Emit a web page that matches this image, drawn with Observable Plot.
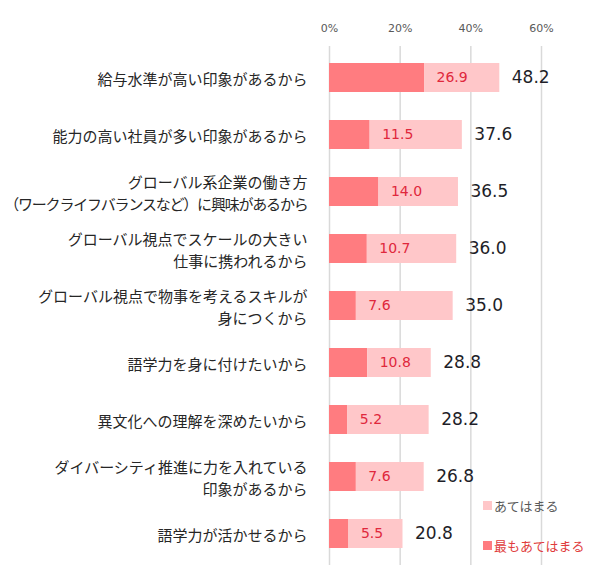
<!DOCTYPE html>
<html>
<head>
<meta charset="utf-8">
<script src="https://cdn.jsdelivr.net/npm/d3@7"></script>
<script src="https://cdn.jsdelivr.net/npm/@observablehq/plot@0.6"></script>
<style>
  html, body { margin: 0; padding: 0; background: #fff; }
  #wrap { position: relative; width: 608px; height: 566px; }
  .leg { position: absolute; display: flex; align-items: center; font-family: "Noto Sans CJK JP", sans-serif; font-size: 13px; }
  .leg span.sw { display: inline-block; width: 9px; height: 9px; margin-right: 2px; }
</style>
</head>
<body>
<div id="wrap"></div>
<script>
const categories = [
  "給与水準が高い印象があるから",
  "能力の高い社員が多い印象があるから",
  "グローバル系企業の働き方\n（ワークライフバランスなど）に興味があるから",
  "グローバル視点でスケールの大きい\n仕事に携われるから",
  "グローバル視点で物事を考えるスキルが\n身につくから",
  "語学力を身に付けたいから",
  "異文化への理解を深めたいから",
  "ダイバーシティ推進に力を入れている\n印象があるから",
  "語学力が活かせるから"
];
const mostApplies = [26.9, 11.5, 14.0, 10.7, 7.6, 10.8, 5.2, 7.6, 5.5];
const applies = [48.2, 37.6, 36.5, 36.0, 35.0, 28.8, 28.2, 26.8, 20.8];
const xTicks = [0, 20, 40, 60];
const seriesNames = ["あてはまる", "最もあてはまる"];

const darkColor = "#ff7c80";
const lightColor = "#ffc7c9";

const data = categories.map((c, i) => ({cat: c, most: mostApplies[i], total: applies[i]}));

const chart = Plot.plot({
  width: 608,
  height: 566,
  marginLeft: 329,
  marginRight: 67,
  marginTop: 46,
  marginBottom: 1,
  x: {domain: [0, 60]},
  y: {domain: categories, paddingInner: 0.5, paddingOuter: 0.25, axis: null},
  style: {background: "#fff"},
  marks: [
    Plot.ruleX(xTicks, {stroke: "#d9d9d9", strokeWidth: 1.5}),
    Plot.axisX({
      anchor: "top", ticks: xTicks, tickFormat: d => d + "%", tickSize: 0, tickPadding: 15,
      fontSize: 11, fill: "#595959", fontFamily: "DejaVu Sans", label: null
    }),
    Plot.barX(data, {y: "cat", x1: 0, x2: "most", fill: darkColor}),
    Plot.barX(data, {y: "cat", x1: "most", x2: "total", fill: lightColor}),
    Plot.text(data, {y: "cat", x: "most", text: d => d.most.toFixed(1), dx: 12, textAnchor: "start",
      fontSize: 14, fill: "#e0283c", fontFamily: "DejaVu Sans"}),
    Plot.text(data, {y: "cat", x: "total", text: d => d.total.toFixed(1), dx: 12, textAnchor: "start",
      fontSize: 17, fill: "#1e1e28", fontFamily: "DejaVu Sans"}),
    Plot.text(data, {y: "cat", x: 0, text: "cat", dx: -22, textAnchor: "end", lineHeight: 1.47,
      fontSize: 15, fill: "#262626", fontFamily: "Noto Sans CJK JP"})
  ]
});

// compress the long second line as in the reference
chart.querySelectorAll("tspan").forEach(t => {
  if (t.textContent.startsWith("（")) t.setAttribute("letter-spacing", "-1.2");
});

const wrap = document.getElementById("wrap");
wrap.appendChild(chart);

const legendItems = [
  {name: seriesNames[0], color: lightColor, text: "#595959", top: 496},
  {name: seriesNames[1], color: darkColor, text: "#e03c3c", top: 536}
];
legendItems.forEach(l => {
  const d = document.createElement("div");
  d.className = "leg";
  d.style.left = "483px";
  d.style.top = l.top + "px";
  d.style.color = l.text;
  d.innerHTML = `<span class="sw" style="background:${l.color}"></span>${l.name}`;
  wrap.appendChild(d);
});
</script>
</body>
</html>
